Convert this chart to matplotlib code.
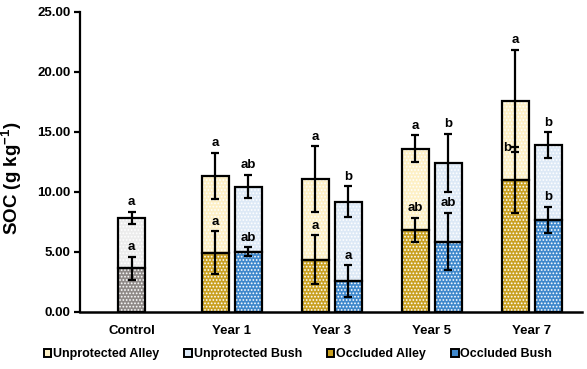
import matplotlib
matplotlib.use("Agg")
import matplotlib.pyplot as plt
from matplotlib.patches import Patch
import numpy as np

plt.rcParams['font.family'] = ['Liberation Sans', 'DejaVu Sans']
plt.rcParams['font.weight'] = 'bold'
plt.rcParams['hatch.linewidth'] = 0.8
plt.rcParams['mathtext.fontset'] = 'custom'
plt.rcParams['mathtext.rm'] = 'Liberation Sans:bold'
plt.rcParams['mathtext.bf'] = 'Liberation Sans:bold'
plt.rcParams['mathtext.it'] = 'Liberation Sans:bold'

categories = ['Control', 'Year 1', 'Year 3', 'Year 5', 'Year 7']

control_occ = 3.65
control_occ_err = 0.97
control_tot = 7.86
control_tot_err = 0.50

alley_occ = [4.94, 4.36, 6.86, 11.00]
alley_occ_err = [1.78, 2.05, 1.00, 2.75]
alley_unp = [11.36, 11.08, 13.61, 17.61]
alley_unp_err = [1.93, 2.75, 1.10, 4.25]

bush_occ = [5.02, 2.58, 5.86, 7.69]
bush_occ_err = [0.38, 1.30, 2.40, 1.10]
bush_unp = [10.44, 9.19, 12.42, 13.92]
bush_unp_err = [0.98, 1.30, 2.45, 1.07]

control_letters = ['a', 'a']  # top, bottom
alley_top_letters = ['a', 'a', 'a', 'a']
alley_bot_letters = ['a', 'a', 'ab', 'b']
bush_top_letters = ['ab', 'b', 'b', 'b']
bush_bot_letters = ['ab', 'a', 'ab', 'b']

legend_labels = ['Unprotected Alley', 'Unprotected Bush', 'Occluded Alley', 'Occluded Bush']

c_ua = '#fdf0c6'
c_ub = '#dde9f6'
c_oa = '#c9a021'
c_ob = '#3f88cc'
c_cu = '#ececec'
c_co = '#8f8a88'

fig = plt.figure(figsize=(5.87, 3.69), dpi=100)
ax = fig.add_axes([80/587, 1-312/369, 502/587, 300/369])

W = 0.27
OFF = 0.165
hatch = '.....'
FS = 9.5


def draw_bar(x, bottom, height, color):
    ax.bar(x, height, W, bottom=bottom, color=color, edgecolor='white',
           hatch=hatch, linewidth=0, zorder=2)
    ax.bar(x, height, W, bottom=bottom, fill=False, edgecolor='black',
           linewidth=1.6, zorder=3)


def err(x, y, e):
    ax.errorbar(x, y, yerr=e, fmt='none', ecolor='black', elinewidth=1.6,
                capsize=2.8, capthick=1.6, zorder=4)


def label(x, y, t, dx=0):
    ax.annotate(t, (x, y), xytext=(dx, 2.5), textcoords='offset points',
                ha='center', va='bottom', fontsize=FS, fontweight='bold', zorder=5)


# Control
draw_bar(0, 0, control_occ, c_co)
draw_bar(0, control_occ, control_tot - control_occ, c_cu)
err(0, control_tot, control_tot_err)
err(0, control_occ, control_occ_err)
label(0, control_tot + control_tot_err, control_letters[0])
label(0, control_occ + control_occ_err, control_letters[1])

for i in range(4):
    xa = i + 1 - OFF
    xb = i + 1 + OFF
    draw_bar(xa, 0, alley_occ[i], c_oa)
    draw_bar(xa, alley_occ[i], alley_unp[i] - alley_occ[i], c_ua)
    draw_bar(xb, 0, bush_occ[i], c_ob)
    draw_bar(xb, bush_occ[i], bush_unp[i] - bush_occ[i], c_ub)
    err(xa, alley_unp[i], alley_unp_err[i])
    err(xa, alley_occ[i], alley_occ_err[i])
    err(xb, bush_unp[i], bush_unp_err[i])
    err(xb, bush_occ[i], bush_occ_err[i])
    label(xa, alley_unp[i] + alley_unp_err[i], alley_top_letters[i])
    label(xb, bush_unp[i] + bush_unp_err[i], bush_top_letters[i])
    label(xb, bush_occ[i] + bush_occ_err[i], bush_bot_letters[i])
    if i == 3:
        ax.annotate(alley_bot_letters[i], (xa, alley_occ[i] + alley_occ_err[i]),
                    xytext=(-5.5, -0.5), textcoords='offset points',
                    ha='center', va='center', fontsize=FS, fontweight='bold', zorder=5)
    else:
        label(xa, alley_occ[i] + alley_occ_err[i], alley_bot_letters[i])

ax.set_xlim(-0.515, 4.505)
ax.set_ylim(0, 25)
ax.set_yticks(np.arange(0, 25.01, 5))
ax.set_yticklabels([f'{v:.2f}' for v in np.arange(0, 25.01, 5)], fontsize=FS, fontweight='bold')
ax.set_xticks(range(5))
ax.set_xticklabels(categories, fontsize=FS, fontweight='bold')
ax.tick_params(axis='x', length=0, pad=9)
ax.tick_params(axis='y', length=4, width=1.6, pad=3)
for s in ['top', 'right']:
    ax.spines[s].set_visible(False)
ax.spines['left'].set_linewidth(1.6)
ax.spines['bottom'].set_linewidth(1.8)
ax.set_ylabel('SOC (g kg$^{-1}$)', fontsize=13.5, fontweight='bold')
ax.yaxis.set_label_coords(-0.112, 0.447)

handles = [Patch(facecolor=c, edgecolor='black', linewidth=1.4) for c in [c_ua, c_ub, c_oa, c_ob]]
fig.legend(handles, legend_labels, loc='center', bbox_to_anchor=(298/587, 1-354/369),
           ncol=4, frameon=False, handlelength=0.6, handleheight=0.6,
           handletextpad=0.15, columnspacing=2.0, prop={'weight': 'bold', 'size': 9})

fig.savefig('out.png', dpi=100)
